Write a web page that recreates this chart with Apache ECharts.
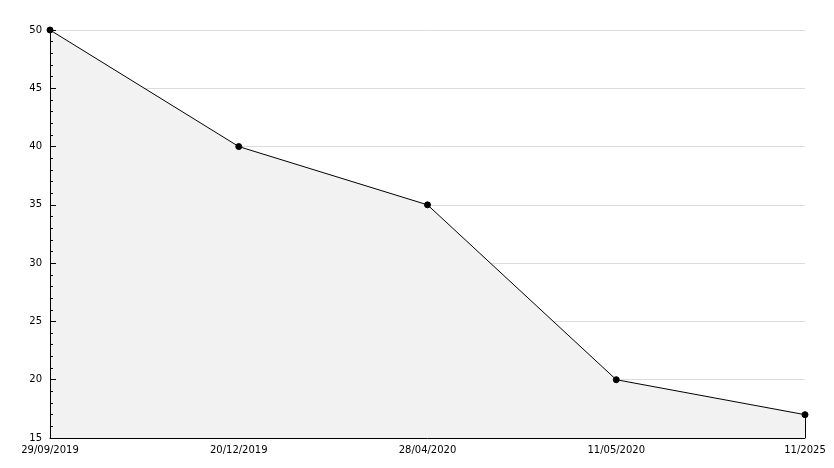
<!DOCTYPE html>
<html><head><meta charset="utf-8">
<script src="https://cdn.jsdelivr.net/npm/echarts@6/dist/echarts.min.js"></script>
<style>html,body{margin:0;padding:0;background:#fff}#c{width:834px;height:468px}</style>
</head><body><div id="c"></div>
<script>
const categories = ['29/09/2019', '20/12/2019', '28/04/2020', '11/05/2020', '11/2025'];
const values = [50, 40, 35, 20, 17];
const yMin = 15, yMax = 50, yStep = 5;

const chart = echarts.init(document.getElementById('c'));
chart.setOption({
  animation: false,
  backgroundColor: '#fff',
  grid: { left: 50, right: 29, top: 30, bottom: 30 },
  xAxis: {
    type: 'category', data: categories, boundaryGap: false, z: 10,
    axisLine: { lineStyle: { color: '#000', width: 1 } },
    axisTick: { show: false },
    axisLabel: { color: '#000', fontFamily: 'DejaVu Sans', fontSize: 10, margin: 7, showMinLabel: true, showMaxLabel: true, interval: 0 },
    splitLine: { show: false }
  },
  yAxis: [{
    type: 'value', min: yMin, max: yMax, interval: yStep, z: 10,
    axisLine: { show: true, lineStyle: { color: '#000', width: 1 } },
    axisTick: { show: true, inside: true, length: 6, lineStyle: { color: '#000' } },
    minorTick: { show: true, splitNumber: 5, length: 3, lineStyle: { color: '#000' } },
    axisLabel: { color: '#000', fontFamily: 'DejaVu Sans', fontSize: 10, margin: 8 },
    splitLine: { show: false },
    minorSplitLine: { show: false }
  }, {
    type: 'value', min: yMin, max: yMax, interval: yStep, z: 0, position: 'left',
    axisLine: { show: false }, axisTick: { show: false }, axisLabel: { show: false },
    splitLine: { show: true, lineStyle: { color: '#dcdcdc', width: 1 } }
  }],
  series: [{
    type: 'line', data: values, z: 2, yAxisIndex: 0,
    lineStyle: { color: '#000', width: 1 },
    itemStyle: { color: '#000', borderColor: '#000', borderWidth: 1 },
    symbol: 'circle', symbolSize: 6, showAllSymbol: true,
    areaStyle: { color: '#f2f2f2', opacity: 1 }
  }, {
    type: 'line', yAxisIndex: 0,
    data: categories.map((c, i) => i === categories.length - 1 ? values[i] : null),
    symbol: 'none',
    markLine: {
      silent: true, symbol: 'none',
      lineStyle: { color: '#000', width: 1, type: 'solid' },
      label: { show: false },
      data: [[{ coord: [categories.length - 1, yMin] }, { coord: [categories.length - 1, values[values.length - 1]] }]]
    }
  }]
});
</script></body></html>
